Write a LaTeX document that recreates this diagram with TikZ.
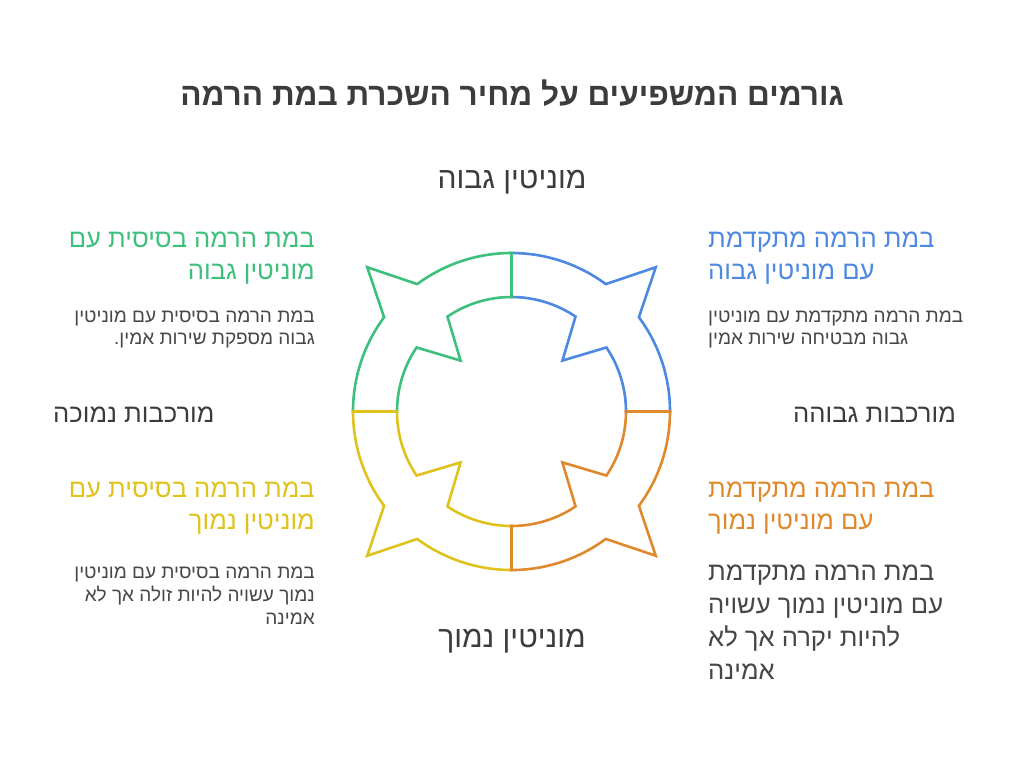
\documentclass[tikz,border=0pt]{standalone}
\usepackage{fontspec}
\newfontfamily\heb[Script=Hebrew]{Liberation Sans}
\TeXXeTstate=1
\definecolor{cblue}{HTML}{4D88E2}
\definecolor{cgreen}{HTML}{3EC07D}
\definecolor{cyellow}{HTML}{DFC31C}
\definecolor{corange}{HTML}{E0892C}
\definecolor{tdark}{HTML}{3C3C3C}
\definecolor{tbody}{HTML}{474747}
\begin{document}
\begin{tikzpicture}[x=1pt,y=-1pt,
  quad/.style={line width=2.6pt, line join=miter, miter limit=10},
  lbl/.style={inner sep=0pt, text=tdark, font=\heb\fontsize{25.6}{30}\selectfont},
  axl/.style={inner sep=0pt, text=tdark, font=\heb\fontsize{30}{34}\selectfont},
  headR/.style={inner sep=0pt, anchor=base east, font=\heb\fontsize{25.6}{30}\selectfont},
  headL/.style={inner sep=0pt, anchor=base west, font=\heb\fontsize{25.6}{30}\selectfont},
  bodyR/.style={inner sep=0pt, anchor=base east, text=tbody, font=\heb\fontsize{19}{22}\selectfont},
  bodyL/.style={inner sep=0pt, anchor=base west, text=tbody, font=\heb\fontsize{19}{22}\selectfont},
  bigL/.style={inner sep=0pt, anchor=base west, text=tbody, font=\heb\fontsize{25.6}{30}\selectfont}]
\useasboundingbox[fill=white] (0,0) rectangle (1024,756);

\node[anchor=base, inner sep=0pt, text=tdark, font=\heb\bfseries\fontsize{31.6}{36}\selectfont] (title) at (512,105) {\beginR גורמים המשפיעים על מחיר השכרת במת הרמה\endR};

% ring
\coordinate (c) at (511.5,411.5);
\begin{scope}[shift={(c)}, y=1pt]
  \foreach \rot/\col/\nm in {0/cblue/qb, 90/cgreen/qg, 180/cyellow/qy, 270/corange/qo} {
    \draw[quad, draw=\col, rotate=\rot] (90:158.5) arc[start angle=90, end angle=53.5, radius=158.5]
      -- (45:204) -- (36.5:158.5) arc[start angle=36.5, end angle=0, radius=158.5]
      -- (0:114.5) arc[start angle=0, end angle=34, radius=114.5]
      -- (45:72) -- (56:114.5) arc[start angle=56, end angle=90, radius=114.5] -- cycle;
  }
\end{scope}

% axis labels
\node[axl, anchor=base] (high) at (512,188) {\beginR מוניטין גבוה\endR};
\node[axl, anchor=base] (low) at (512,647) {\beginR מוניטין נמוך\endR};
\node[lbl, anchor=base west] (cl) at (53,422) {\beginR מורכבות נמוכה\endR};
\node[lbl, anchor=base east] (ch) at (956,422) {\beginR מורכבות גבוהה\endR};

% green (top left)
\node[headR, text=cgreen] (g1) at (315,247) {\beginR במת הרמה בסיסית עם\endR};
\node[headR, text=cgreen] (g2) at (315,279) {\beginR מוניטין גבוה\endR};
\node[bodyR] (g3) at (315,322) {\beginR במת הרמה בסיסית עם מוניטין\endR};
\node[bodyR] (g4) at (315,344) {\beginR גבוה מספקת שירות אמין.\endR};

% blue (top right)
\node[headL, text=cblue] (b1) at (708,247) {\beginR במת הרמה מתקדמת\endR};
\node[headL, text=cblue] (b2) at (708,279) {\beginR עם מוניטין גבוה\endR};
\node[bodyL] (b3) at (708,322) {\beginR במת הרמה מתקדמת עם מוניטין\endR};
\node[bodyL] (b4) at (708,344) {\beginR גבוה מבטיחה שירות אמין\endR};

% yellow (bottom left)
\node[headR, text=cyellow] (y1) at (315,497) {\beginR במת הרמה בסיסית עם\endR};
\node[headR, text=cyellow] (y2) at (315,529) {\beginR מוניטין נמוך\endR};
\node[bodyR] (y3) at (315,578) {\beginR במת הרמה בסיסית עם מוניטין\endR};
\node[bodyR] (y4) at (315,601) {\beginR נמוך עשויה להיות זולה אך לא\endR};
\node[bodyR] (y5) at (315,624) {\beginR אמינה\endR};

% orange (bottom right)
\node[headL, text=corange] (o1) at (708,497) {\beginR במת הרמה מתקדמת\endR};
\node[headL, text=corange] (o2) at (708,529) {\beginR עם מוניטין נמוך\endR};
\node[bigL] (o3) at (708,580) {\beginR במת הרמה מתקדמת\endR};
\node[bigL] (o4) at (708,613) {\beginR עם מוניטין נמוך עשויה\endR};
\node[bigL] (o5) at (708,646) {\beginR להיות יקרה אך לא\endR};
\node[bigL] (o6) at (708,679) {\beginR אמינה\endR};
\end{tikzpicture}
\end{document}
